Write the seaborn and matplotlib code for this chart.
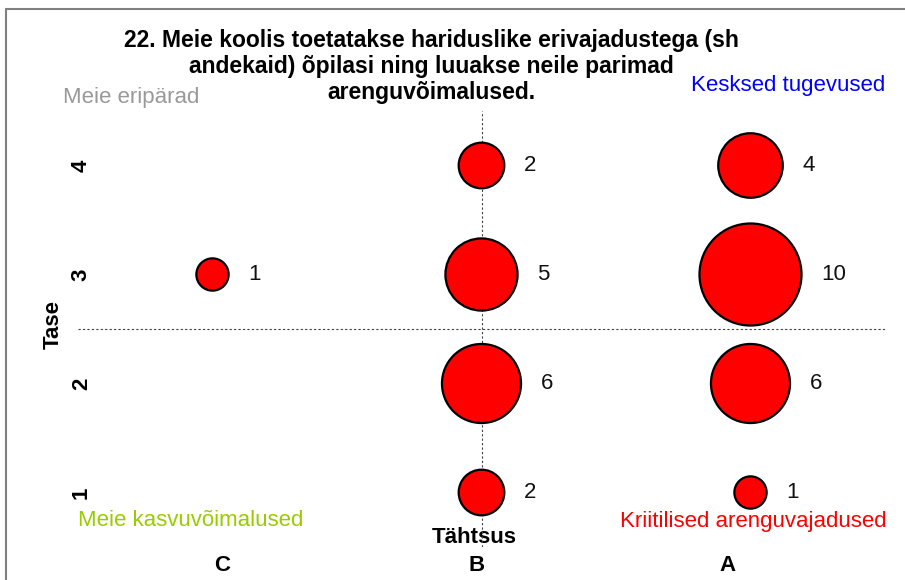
import numpy as np
import pandas as pd
import matplotlib
matplotlib.use("Agg")
import matplotlib.pyplot as plt
import matplotlib.transforms as mtransforms
import seaborn as sns
from matplotlib.lines import Line2D

# Data
importance_order = ["C", "B", "A"]
importance = ["B", "A", "B", "A", "C", "B", "A", "B", "A"]
level = [4, 4, 3, 3, 3, 2, 2, 1, 1]
count = [2, 4, 5, 10, 1, 6, 6, 2, 1]
level_ticks = [1, 2, 3, 4]

title_lines = ["22. Meie koolis toetatakse hariduslike erivajadustega (sh",
               "andekaid) õpilasi ning luuakse neile parimad",
               "arenguvõimalused."]

df = pd.DataFrame({"Tähtsus": importance, "Tase": level, "n": count})
df["pos"] = df["Tähtsus"].map({c: i + 1 for i, c in enumerate(importance_order)})

sns.set_style("white")
plt.rcParams["font.family"] = ["Liberation Sans", "DejaVu Sans"]
plt.rcParams["text.color"] = "black"
plt.rcParams["axes.labelcolor"] = "black"
plt.rcParams["xtick.color"] = "black"
plt.rcParams["ytick.color"] = "black"

W, H = 905, 580
fig = plt.figure(figsize=(W / 100, H / 100), dpi=100)
ax = fig.add_axes([78 / W, 1 - 547 / H, 807 / W, 436 / H])

unit = 540  # marker area (pt^2) per response
sns.scatterplot(data=df, x="pos", y="Tase", size="n", sizes=(0, unit * 10),
                size_norm=(0, 10), color="#ff0000", edgecolor="black",
                linewidth=1.6, legend=False, ax=ax, zorder=3)

# reference lines
ax.axvline(2, color="#404040", ls=(0, (2, 2)), lw=0.8, zorder=1)
ax.axhline(2.5, color="#404040", ls=(0, (2, 2)), lw=0.8, zorder=1)

# value labels to the right of the bubbles
for _, r in df.iterrows():
    rad_pt = np.sqrt(unit * r["n"]) / 2
    ax.annotate(str(r["n"]), (r["pos"], r["Tase"]), xytext=(rad_pt + 14, 0),
                textcoords="offset points", ha="left", va="center",
                fontsize=16, color="#111111")

ax.set_xlim(0.5, 3.5)
ax.set_ylim(0.5, 4.5)
ax.set_xticks(range(1, len(importance_order) + 1))
ax.set_xticklabels(importance_order, fontsize=16, fontweight="bold")
ax.set_yticks(level_ticks)
ax.set_yticklabels([str(t) for t in level_ticks], fontsize=16,
                   fontweight="bold", rotation=90, va="center")
ax.tick_params(axis="y", length=0, pad=-10)
ax.tick_params(axis="x", length=0, pad=6)
for s in ax.spines.values():
    s.set_visible(False)

# the category labels sit a little off the bubble columns in the reference
for lab, dx in zip(ax.get_xticklabels(), [10, -5, -23]):
    lab.set_transform(lab.get_transform() +
                      mtransforms.ScaledTranslation(dx / 100, 0, fig.dpi_scale_trans))

ax.set_xlabel("Tähtsus", fontsize=16, fontweight="bold")
ax.xaxis.set_label_coords(0.491, 0.045)
ax.set_ylabel("Tase", fontsize=16, fontweight="bold")
ax.yaxis.set_label_coords(-0.018, 0.51)

# title, one text per line
for i, line in enumerate(title_lines):
    fig.text(431 / W, 1 - (40 + 26.5 * i) / H, line, ha="center", va="center",
             fontsize=16.5, fontweight="bold")

# quadrant captions
fig.text(63 / W, 1 - 97 / H, "Meie eripärad", color="#999999", fontsize=16,
         ha="left", va="center")
fig.text(885 / W, 1 - 85 / H, "Kesksed tugevused", color="#0000ff", fontsize=16,
         ha="right", va="center")
fig.text(78 / W, 1 - 521 / H, "Meie kasvuvõimalused", color="#99cc00", fontsize=16,
         ha="left", va="center")
fig.text(887 / W, 1 - 522 / H, "Kriitilised arenguvajadused", color="#ff0000",
         fontsize=16, ha="right", va="center")

# frame on top and left, as in the reference
fig.add_artist(Line2D([6 / W, 1], [1 - 9 / H, 1 - 9 / H], color="#808080", lw=1.5))
fig.add_artist(Line2D([6 / W, 6 / W], [0, 1 - 9 / H], color="#808080", lw=1.5))

fig.savefig("out.png", dpi=100)
